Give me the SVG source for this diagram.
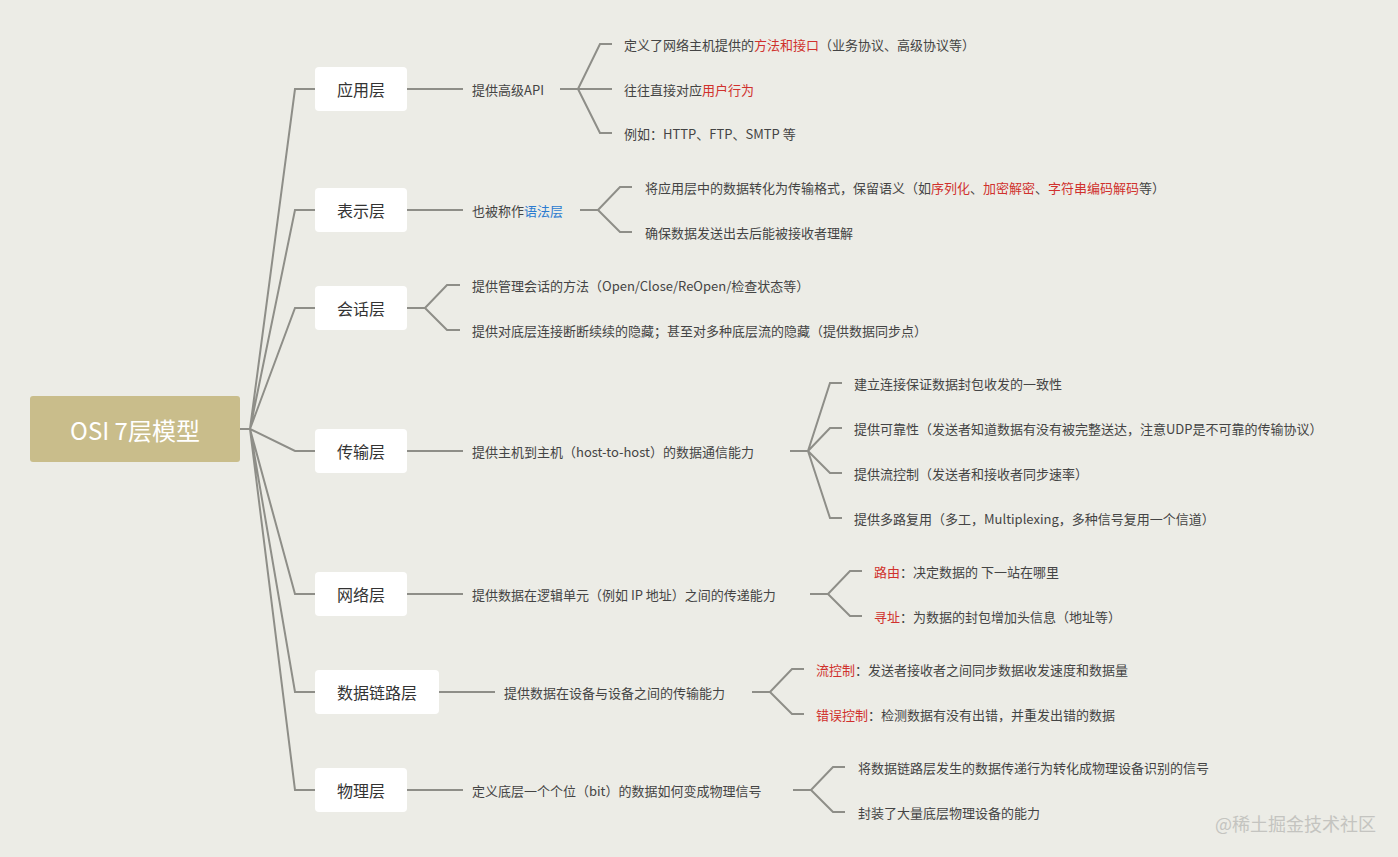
<svg xmlns="http://www.w3.org/2000/svg" width="1398" height="857" viewBox="0 0 1398 857">
<style>
text{font-family:"Noto Sans CJK SC","Liberation Sans",sans-serif;fill:#444;dominant-baseline:central}
.l{font-size:16px;text-anchor:middle;fill:#333}
.t{font-size:13px}
.r{fill:#d0312d}.b{fill:#2b7bd0}
.box{fill:#fff}
.c{fill:none;stroke:#8e8e88;stroke-width:2}
</style>
<rect width="1398" height="857" fill="#ecece6"/>
<g id="connectors" class="c">
<path d="M240 429H250M250 429L295 89H315M250 429L295 210H315M250 429L295 308H315M250 429L295 451H315M250 429L295 594H315M250 429L295 692H315M250 429L295 790H315"/>
<path d="M407 89H463M560 89H578L600 44H612M578 89H612M578 89L600 133H612"/>
<path d="M407 210H463M580 210H598L620 187H632M598 210L620 232H632"/>
<path d="M407 308H425L447 285H460M425 308L447 330H460"/>
<path d="M407 451H463M790 451H808L830 383H842M808 451L830 428H842M808 451L830 473H842M808 451L830 518H842"/>
<path d="M407 594H463M810 594H828L850 571H862M828 594L850 616H862"/>
<path d="M439 692H495M752 692H770L792 669H804M770 692L792 714H804"/>
<path d="M407 790H463M793 790H811L833 767H845M811 790L833 812H845"/>
</g>
<g id="root"><rect x="30" y="396" width="210" height="66" rx="3" fill="#c9bd8b"/><text x="135" y="429" font-size="24" text-anchor="middle" style="fill:#fff">OSI 7层模型</text></g>
<g id="n1"><rect class="box" x="315" y="67" width="92" height="44" rx="4"/><text class="l" x="361" y="89">应用层</text></g>
<g id="n2"><rect class="box" x="315" y="188" width="92" height="44" rx="4"/><text class="l" x="361" y="210">表示层</text></g>
<g id="n3"><rect class="box" x="315" y="286" width="92" height="44" rx="4"/><text class="l" x="361" y="308">会话层</text></g>
<g id="n4"><rect class="box" x="315" y="429" width="92" height="44" rx="4"/><text class="l" x="361" y="451">传输层</text></g>
<g id="n5"><rect class="box" x="315" y="572" width="92" height="44" rx="4"/><text class="l" x="361" y="594">网络层</text></g>
<g id="n6"><rect class="box" x="315" y="670" width="124" height="44" rx="4"/><text class="l" x="377" y="692">数据链路层</text></g>
<g id="n7"><rect class="box" x="315" y="768" width="92" height="44" rx="4"/><text class="l" x="361" y="790">物理层</text></g>
<g id="labels" class="t">
<text class="t" x="472" y="89">提供高级API</text>
<text class="t" x="624" y="44">定义了网络主机提供的<tspan class="r">方法和接口</tspan>（业务协议、高级协议等）</text>
<text class="t" x="624" y="89">往往直接对应<tspan class="r">用户行为</tspan></text>
<text class="t" x="624" y="133">例如：HTTP、FTP、SMTP 等</text>
<text class="t" x="472" y="210">也被称作<tspan class="b">语法层</tspan></text>
<text class="t" x="645" y="187">将应用层中的数据转化为传输格式，保留语义（如<tspan class="r">序列化</tspan>、<tspan class="r">加密解密</tspan>、<tspan class="r">字符串编码解码</tspan>等）</text>
<text class="t" x="645" y="232">确保数据发送出去后能被接收者理解</text>
<text class="t" x="472" y="285">提供管理会话的方法（Open/Close/ReOpen/检查状态等）</text>
<text class="t" x="472" y="330">提供对底层连接断断续续的隐藏；甚至对多种底层流的隐藏（提供数据同步点）</text>
<text class="t" x="472" y="451">提供主机到主机（host-to-host）的数据通信能力</text>
<text class="t" x="854" y="383">建立连接保证数据封包收发的一致性</text>
<text class="t" x="854" y="428">提供可靠性（发送者知道数据有没有被完整送达，注意UDP是不可靠的传输协议）</text>
<text class="t" x="854" y="473">提供流控制（发送者和接收者同步速率）</text>
<text class="t" x="854" y="518">提供多路复用（多工，Multiplexing，多种信号复用一个信道）</text>
<text class="t" x="472" y="594">提供数据在逻辑单元（例如 IP 地址）之间的传递能力</text>
<text class="t" x="874" y="571"><tspan class="r">路由</tspan>：决定数据的 下一站在哪里</text>
<text class="t" x="874" y="616"><tspan class="r">寻址</tspan>：为数据的封包增加头信息（地址等）</text>
<text class="t" x="504" y="692">提供数据在设备与设备之间的传输能力</text>
<text class="t" x="816" y="669"><tspan class="r">流控制</tspan>：发送者接收者之间同步数据收发速度和数据量</text>
<text class="t" x="816" y="714"><tspan class="r">错误控制</tspan>：检测数据有没有出错，并重发出错的数据</text>
<text class="t" x="472" y="790">定义底层一个个位（bit）的数据如何变成物理信号</text>
<text class="t" x="858" y="767">将数据链路层发生的数据传递行为转化成物理设备识别的信号</text>
<text class="t" x="858" y="812">封装了大量底层物理设备的能力</text>
<text x="1215" y="823" font-size="18" style="fill:#c4c4c0">@稀土掘金技术社区</text>
</g>
</svg>
